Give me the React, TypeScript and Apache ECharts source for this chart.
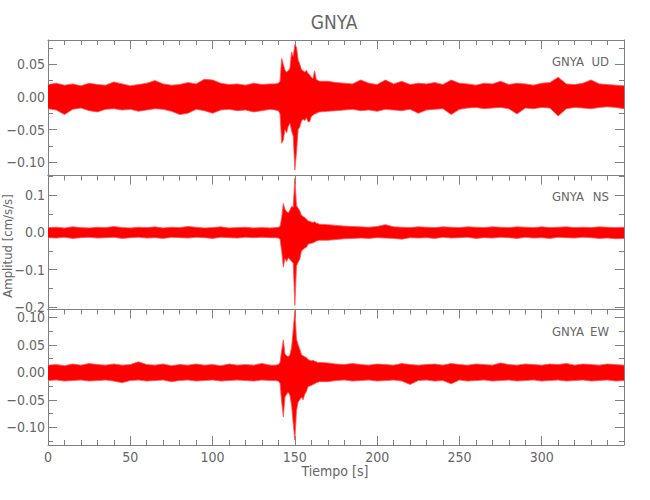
import React, { useEffect, useRef } from "react";
import * as echarts from "echarts";

const times = [
  0, 5, 10, 15, 20, 25, 30, 35, 40, 45, 50, 55, 60, 65, 70, 75, 80, 85, 90, 95, 100, 105, 110, 115, 120, 125, 130, 135,
  138, 140, 141, 142, 143, 144, 145, 146, 147, 148, 149, 150, 151, 152, 153, 154, 155, 156, 157, 158, 159, 160, 161, 162, 163, 164, 165,
  170, 175, 180, 185, 190, 195, 200, 205, 210, 215, 220, 225, 230, 235, 240, 245, 250, 255, 260, 265, 270, 275, 280, 285, 290, 295, 300, 305, 310, 315, 320, 325, 330, 335, 340, 345, 350,
];

// GNYA UD (cm/s/s): upper and lower envelope of the trace
const udUpper = [
  0.019, 0.021, 0.018, 0.020, 0.017, 0.021, 0.019, 0.018, 0.023, 0.020, 0.017, 0.019, 0.021, 0.025, 0.020, 0.018, 0.019, 0.022, 0.020, 0.027, 0.026, 0.021, 0.019, 0.020, 0.018, 0.021, 0.019, 0.020,
  0.020, 0.021, 0.024, 0.059, 0.050, 0.041, 0.038, 0.040, 0.044, 0.069, 0.062, 0.080, 0.076, 0.057, 0.050, 0.042, 0.040, 0.038, 0.041, 0.036, 0.034, 0.030, 0.028, 0.040, 0.027, 0.025, 0.024,
  0.024, 0.022, 0.021, 0.020, 0.026, 0.021, 0.019, 0.026, 0.020, 0.024, 0.019, 0.021, 0.020, 0.022, 0.019, 0.026, 0.021, 0.020, 0.018, 0.021, 0.020, 0.024, 0.019, 0.021, 0.020, 0.018, 0.021, 0.022, 0.030, 0.020, 0.019, 0.021, 0.026, 0.020, 0.019, 0.018, 0.017,
];
const udLower = [
  -0.018, -0.020, -0.027, -0.019, -0.017, -0.021, -0.023, -0.019, -0.018, -0.020, -0.019, -0.022, -0.020, -0.018, -0.019, -0.022, -0.027, -0.025, -0.019, -0.021, -0.025, -0.020, -0.019, -0.021, -0.020, -0.023, -0.021, -0.019,
  -0.020, -0.021, -0.026, -0.071, -0.066, -0.050, -0.055, -0.045, -0.040, -0.052, -0.060, -0.112, -0.085, -0.050, -0.046, -0.037, -0.034, -0.036, -0.032, -0.038, -0.038, -0.030, -0.028, -0.026, -0.025, -0.024, -0.023,
  -0.022, -0.021, -0.020, -0.019, -0.021, -0.020, -0.022, -0.019, -0.020, -0.021, -0.019, -0.025, -0.020, -0.019, -0.018, -0.027, -0.019, -0.017, -0.016, -0.018, -0.017, -0.016, -0.018, -0.026, -0.017, -0.018, -0.016, -0.017, -0.029, -0.018, -0.016, -0.017, -0.018, -0.016, -0.015, -0.016, -0.018,
];

// GNYA NS
const nsUpper = [
  0.013, 0.014, 0.012, 0.015, 0.013, 0.012, 0.014, 0.013, 0.016, 0.013, 0.012, 0.014, 0.013, 0.015, 0.012, 0.014, 0.013, 0.016, 0.014, 0.012, 0.013, 0.015, 0.012, 0.013, 0.014, 0.012, 0.013, 0.012,
  0.013, 0.014, 0.016, 0.040, 0.078, 0.062, 0.056, 0.052, 0.060, 0.070, 0.068, 0.146, 0.072, 0.065, 0.058, 0.046, 0.043, 0.040, 0.036, 0.031, 0.030, 0.028, 0.027, 0.029, 0.025, 0.024, 0.022,
  0.021, 0.019, 0.017, 0.016, 0.015, 0.014, 0.016, 0.021, 0.015, 0.014, 0.013, 0.015, 0.014, 0.013, 0.015, 0.014, 0.013, 0.015, 0.014, 0.013, 0.015, 0.014, 0.013, 0.015, 0.014, 0.013, 0.015, 0.013, 0.014, 0.015, 0.013, 0.014, 0.013, 0.015, 0.014, 0.013, 0.014,
];
const nsLower = [
  -0.014, -0.015, -0.013, -0.016, -0.014, -0.013, -0.015, -0.014, -0.013, -0.016, -0.014, -0.013, -0.015, -0.014, -0.016, -0.013, -0.014, -0.015, -0.013, -0.014, -0.016, -0.013, -0.014, -0.015, -0.013, -0.014, -0.013, -0.014,
  -0.014, -0.015, -0.018, -0.050, -0.093, -0.070, -0.078, -0.068, -0.072, -0.078, -0.082, -0.196, -0.090, -0.080, -0.072, -0.050, -0.046, -0.042, -0.040, -0.032, -0.030, -0.029, -0.028, -0.026, -0.023, -0.022, -0.021,
  -0.021, -0.019, -0.017, -0.016, -0.015, -0.016, -0.014, -0.015, -0.016, -0.018, -0.014, -0.015, -0.014, -0.016, -0.013, -0.015, -0.014, -0.013, -0.016, -0.014, -0.015, -0.013, -0.014, -0.016, -0.013, -0.015, -0.014, -0.016, -0.013, -0.014, -0.015, -0.013, -0.014, -0.016, -0.015, -0.017, -0.016,
];

// GNYA EW
const ewUpper = [
  0.013, 0.014, 0.012, 0.015, 0.013, 0.016, 0.014, 0.013, 0.015, 0.013, 0.014, 0.019, 0.014, 0.013, 0.015, 0.012, 0.014, 0.013, 0.015, 0.013, 0.014, 0.012, 0.015, 0.013, 0.014, 0.013, 0.016, 0.013,
  0.013, 0.014, 0.018, 0.040, 0.059, 0.033, 0.030, 0.028, 0.032, 0.045, 0.077, 0.112, 0.060, 0.050, 0.042, 0.032, 0.030, 0.028, 0.027, 0.023, 0.022, 0.021, 0.022, 0.020, 0.019, 0.018, 0.018,
  0.017, 0.015, 0.014, 0.016, 0.014, 0.013, 0.015, 0.014, 0.013, 0.016, 0.014, 0.013, 0.014, 0.015, 0.013, 0.016, 0.014, 0.013, 0.015, 0.014, 0.013, 0.017, 0.014, 0.013, 0.015, 0.014, 0.013, 0.015, 0.014, 0.016, 0.013, 0.015, 0.014, 0.013, 0.015, 0.014, 0.013,
];
const ewLower = [
  -0.015, -0.014, -0.016, -0.015, -0.014, -0.016, -0.015, -0.014, -0.016, -0.019, -0.015, -0.014, -0.016, -0.015, -0.014, -0.017, -0.015, -0.014, -0.016, -0.015, -0.014, -0.016, -0.015, -0.014, -0.015, -0.016, -0.014, -0.015,
  -0.015, -0.016, -0.020, -0.055, -0.081, -0.045, -0.040, -0.036, -0.042, -0.060, -0.093, -0.123, -0.070, -0.054, -0.050, -0.045, -0.050, -0.040, -0.035, -0.026, -0.025, -0.024, -0.022, -0.021, -0.019, -0.018, -0.017,
  -0.017, -0.015, -0.014, -0.016, -0.015, -0.014, -0.016, -0.015, -0.014, -0.016, -0.022, -0.015, -0.014, -0.016, -0.015, -0.021, -0.014, -0.016, -0.015, -0.014, -0.016, -0.015, -0.014, -0.016, -0.015, -0.014, -0.016, -0.015, -0.014, -0.016, -0.015, -0.014, -0.016, -0.015, -0.014, -0.016, -0.015,
];

const stationName = "GNYA";
const components = ["UD", "NS", "EW"];
const yMins = [-0.1203, -0.207, -0.132];
const yMaxs = [0.0872, 0.153, 0.114];
const yDigits = [2, 1, 2];
const uppers = [udUpper, nsUpper, ewUpper];
const lowers = [udLower, nsLower, ewLower];
const xTitle = "Tiempo [s]";
const yTitle = "Amplitud [cm/s/s]";

const FONT = "'Liberation Sans Narrow', 'DejaVu Sans Condensed', 'Roboto', sans-serif";
const AXIS = "#808080";
const TEXT = "#666666";

const gridTops = [40, 175.5, 309.5];
const gridHeights = [135.5, 134, 135.5];

export default function App() {
  const ref = useRef<HTMLDivElement>(null);

  useEffect(() => {
    if (!ref.current) return;
    const chart = echarts.init(ref.current, undefined, { renderer: "svg" });

    const grid: any[] = [];
    const xAxis: any[] = [];
    const yAxis: any[] = [];
    const series: any[] = [];

    for (let i = 0; i < 3; i++) {
      grid.push({ left: 48, right: 26, top: gridTops[i], height: gridHeights[i], containLabel: false });
      const isLast = i === 2;
      xAxis.push({
        type: "value",
        gridIndex: i,
        position: "bottom",
        min: 0,
        max: 350,
        interval: 50,
        axisLine: { show: true, onZero: false, lineStyle: { color: AXIS, width: 1 } },
        axisTick: { show: isLast, inside: true, length: 9, lineStyle: { color: AXIS } },
        minorTick: { show: isLast, splitNumber: 5, length: 5, lineStyle: { color: AXIS } },
        axisLabel: {
          show: isLast,
          margin: 5,
          color: TEXT,
          fontSize: 14,
          fontFamily: FONT,
          showMaxLabel: false,
        },
        splitLine: { show: false },
      });
      xAxis.push({
        type: "value",
        gridIndex: i,
        position: "top",
        min: 0,
        max: 350,
        interval: 50,
        axisLine: { show: true, onZero: false, lineStyle: { color: AXIS, width: 1 } },
        axisTick: { show: true, inside: true, length: 9, lineStyle: { color: AXIS } },
        minorTick: { show: true, splitNumber: 5, length: 5, lineStyle: { color: AXIS } },
        axisLabel: { show: false },
        splitLine: { show: false },
      });
      const digits = yDigits[i];
      const yCommon = {
        type: "value",
        gridIndex: i,
        min: yMins[i],
        max: yMaxs[i],
        splitNumber: 5,
        axisLine: { show: true, onZero: false, lineStyle: { color: AXIS, width: 1 } },
        axisTick: { show: true, inside: true, length: 9, lineStyle: { color: AXIS } },
        minorTick: { show: true, splitNumber: 2, length: 5, lineStyle: { color: AXIS } },
        splitLine: { show: false },
      };
      yAxis.push({
        ...yCommon,
        position: "left",
        axisLabel: {
          show: true,
          margin: 3,
          color: TEXT,
          fontSize: 14,
          fontFamily: FONT,
          showMinLabel: false,
          showMaxLabel: false,
          formatter: (v: number) => v.toFixed(digits).replace("-", "\u2212"),
        },
      });
      yAxis.push({
        ...yCommon,
        position: "right",
        axisLabel: { show: false },
      });

      const up = uppers[i];
      const lo = lowers[i];
      const common = {
        type: "line",
        xAxisIndex: i * 2,
        yAxisIndex: i * 2,
        showSymbol: false,
        symbol: "none",
        silent: true,
        lineStyle: { color: "#ff5050", width: 0.8, opacity: 1 },
        z: 3,
      };
      // the two halves overlap slightly around zero so no seam shows
      series.push({
        ...common,
        name: components[i] + " max",
        areaStyle: { color: "#ff0000", opacity: 1, origin: -0.004 },
        data: times.map((t, k) => [t, up[k]]),
      });
      series.push({
        ...common,
        name: components[i] + " min",
        areaStyle: { color: "#ff0000", opacity: 1, origin: 0.004 },
        data: times.map((t, k) => [t, lo[k]]),
      });
    }

    const labelYs = [61.7, 196.7, 331.7];
    const graphic: any[] = [
      {
        type: "text",
        x: 334,
        y: 22,
        style: { text: stationName, fontSize: 19, fontFamily: FONT, fill: TEXT, align: "center", verticalAlign: "middle" },
      },
      {
        type: "text",
        x: 335,
        y: 471,
        style: { text: xTitle, fontSize: 14, fontFamily: FONT, fill: TEXT, align: "center", verticalAlign: "middle" },
      },
      {
        type: "text",
        x: 7,
        y: 246,
        rotation: Math.PI / 2,
        style: { text: yTitle, fontSize: 13, fontFamily: FONT, fill: TEXT, align: "center", verticalAlign: "middle" },
      },
    ];
    components.forEach((c, i) => {
      graphic.push({
        type: "text",
        x: 584,
        y: labelYs[i],
        style: { text: stationName, fontSize: 13, fontFamily: FONT, fill: TEXT, align: "right", verticalAlign: "middle" },
      });
      graphic.push({
        type: "text",
        x: 609,
        y: labelYs[i],
        style: { text: c, fontSize: 13, fontFamily: FONT, fill: TEXT, align: "right", verticalAlign: "middle" },
      });
    });

    chart.setOption({
      animation: false,
      backgroundColor: "#ffffff",
      grid,
      xAxis,
      yAxis,
      series,
      graphic,
    });

    return () => chart.dispose();
  }, []);

  return <div ref={ref} style={{ width: 650, height: 500, position: "absolute", left: 0, top: 0 }} />;
}
